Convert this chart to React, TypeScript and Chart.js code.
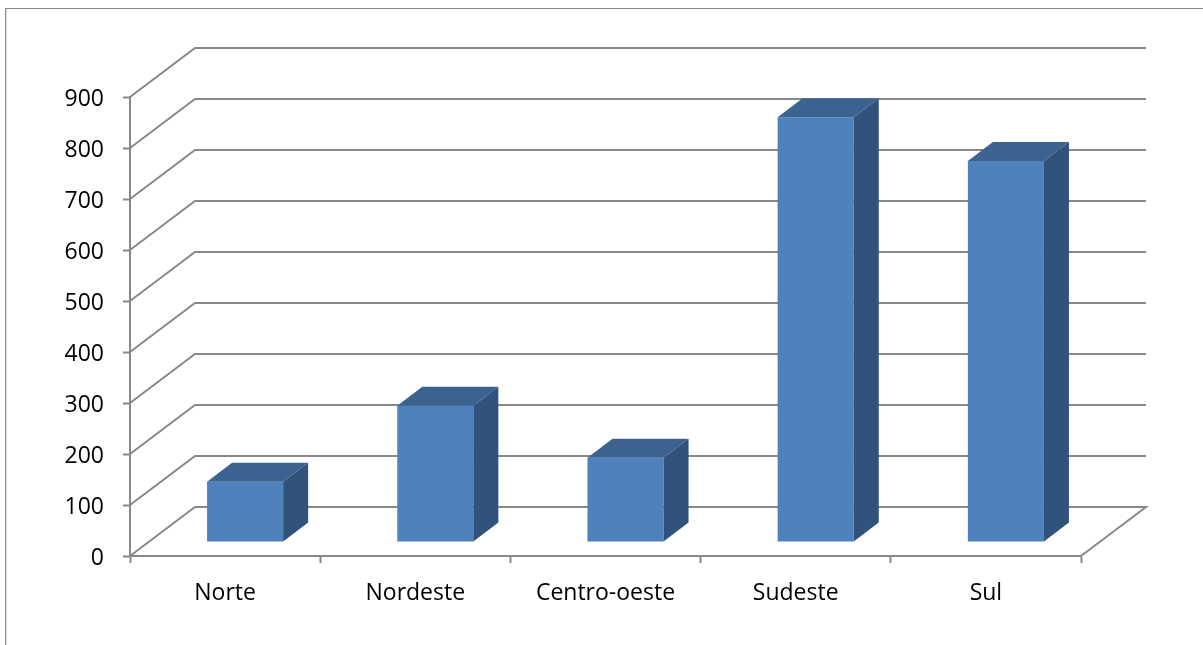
import React, { useEffect, useRef } from "react";
import { Chart, registerables } from "chart.js";

Chart.register(...registerables);

const categories = ["Norte", "Nordeste", "Centro-oeste", "Sudeste", "Sul"];
const values = [118, 267, 165, 833, 747];
const yMin = 0;
const yMax = 900;
const yStep = 100;

// style constants
const WALL_DX = 65;
const WALL_DY = -49;
const BAR_SHIFT_X = 20;
const BAR_SHIFT_Y = -14;
const BAR_DX = 25;
const BAR_DY = -19;
const GRID_COLOR = "#888888";
const FRONT = "#4f81bd";
const TOP = "#3c6290";
const SIDE = "#31527b";
const FONT = { family: "'Open Sans'", size: 23 };

const threeD = {
  id: "threeD",
  beforeDraw(chart: any) {
    const { ctx, chartArea, scales } = chart;
    const y = scales.y;
    ctx.save();
    // outer frame
    ctx.strokeStyle = "#858585";
    ctx.lineWidth = 1.2;
    ctx.beginPath();
    ctx.moveTo(5.7, 700);
    ctx.lineTo(5.7, 8.5);
    ctx.lineTo(1300, 8.5);
    ctx.stroke();
    // walls
    ctx.strokeStyle = GRID_COLOR;
    ctx.lineWidth = 2;
    for (let v = yMin; v <= yMax; v += yStep) {
      const p = y.getPixelForValue(v);
      ctx.beginPath();
      ctx.moveTo(chartArea.left, p);
      ctx.lineTo(chartArea.left + WALL_DX, p + WALL_DY);
      ctx.lineTo(chartArea.right + WALL_DX, p + WALL_DY);
      if (v === yMin) {
        ctx.lineTo(chartArea.right, p);
      }
      ctx.stroke();
    }
    ctx.restore();
  },
  beforeDatasetsDraw(chart: any) {
    chart.ctx.save();
    chart.ctx.translate(BAR_SHIFT_X, BAR_SHIFT_Y);
  },
  afterDatasetsDraw(chart: any) {
    const { ctx } = chart;
    const meta = chart.getDatasetMeta(0);
    meta.data.forEach((el: any) => {
      const { x, y, base, width } = el.getProps(["x", "y", "base", "width"], true);
      const l = x - width / 2;
      const r = x + width / 2;
      // top face
      ctx.fillStyle = TOP;
      ctx.beginPath();
      ctx.moveTo(l, y);
      ctx.lineTo(l + BAR_DX, y + BAR_DY);
      ctx.lineTo(r + BAR_DX, y + BAR_DY);
      ctx.lineTo(r, y);
      ctx.closePath();
      ctx.fill();
      // side face
      ctx.fillStyle = SIDE;
      ctx.beginPath();
      ctx.moveTo(r, y);
      ctx.lineTo(r + BAR_DX, y + BAR_DY);
      ctx.lineTo(r + BAR_DX, base + BAR_DY);
      ctx.lineTo(r, base);
      ctx.closePath();
      ctx.fill();
    });
    ctx.restore();
  },
};

export default function App() {
  const ref = useRef<HTMLCanvasElement | null>(null);
  useEffect(() => {
    if (!ref.current) return;
    const chart = new Chart(ref.current, {
      type: "bar",
      data: {
        labels: categories,
        datasets: [
          {
            data: values,
            backgroundColor: FRONT,
            borderWidth: 0,
            categoryPercentage: 1,
            barPercentage: 0.4,
          },
        ],
      },
      options: {
        responsive: false,
        animation: false,
        devicePixelRatio: 1,
        layout: { padding: { left: 0, top: 97, right: 122, bottom: 0 } },
        plugins: { legend: { display: false }, tooltip: { enabled: false } },
        scales: {
          x: {
            grid: {
              offset: true,
              drawOnChartArea: false,
              drawTicks: true,
              tickLength: 7,
              tickColor: GRID_COLOR,
              tickWidth: 2,
            },
            border: { color: GRID_COLOR, width: 2 },
            ticks: {
              color: "#000",
              font: FONT,
              padding: 17,
              maxRotation: 0,
            },
            afterFit: (s: any) => {
              s.height = 89;
            },
          },
          y: {
            min: yMin,
            max: yMax,
            grid: {
              drawOnChartArea: false,
              drawTicks: true,
              tickLength: 7,
              tickColor: GRID_COLOR,
              tickWidth: 2,
            },
            border: { color: GRID_COLOR, width: 2 },
            ticks: {
              stepSize: yStep,
              color: "#000",
              font: FONT,
              padding: 19,
              labelOffset: 2,
            },
            afterFit: (s: any) => {
              s.width = 130;
            },
          },
        },
      },
      plugins: [threeD],
    });
    return () => chart.destroy();
  }, []);
  return (
    <div style={{ position: "fixed", left: 0, top: 0, width: 1203, height: 645, overflow: "hidden", background: "#fff" }}>
      <canvas ref={ref} width={1203} height={645} />
    </div>
  );
}
